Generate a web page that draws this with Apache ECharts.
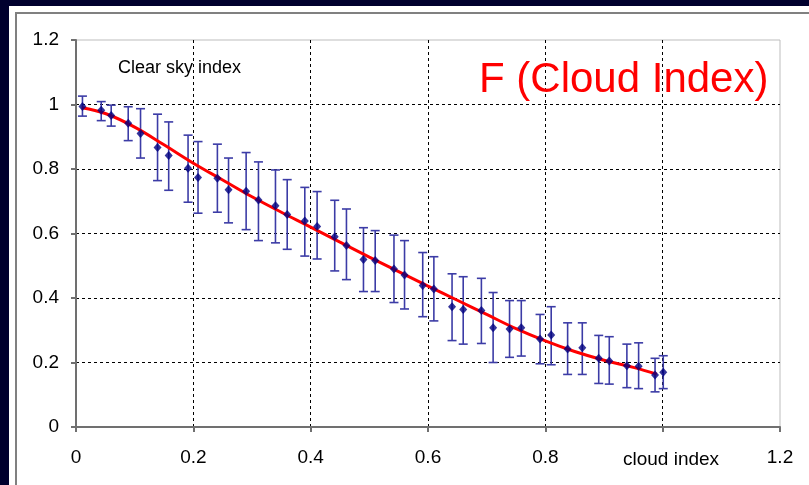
<!DOCTYPE html>
<html>
<head>
<meta charset="utf-8">
<script src="https://cdn.jsdelivr.net/npm/echarts@6/dist/echarts.min.js"></script>
<style>
  html, body { margin: 0; padding: 0; background: #ffffff; }
  #chart { width: 809px; height: 485px; }
</style>
</head>
<body>
<div id="chart"></div>
<script>
// Binned measurements: cloud index, mean clear sky index, and error bar limits
const cloudIndex = [0.011, 0.043, 0.060, 0.089, 0.110, 0.139, 0.158, 0.191, 0.208, 0.241,
  0.260, 0.290, 0.311, 0.340, 0.360, 0.390, 0.411, 0.441, 0.461, 0.490,
  0.510, 0.542, 0.560, 0.591, 0.610, 0.641, 0.660, 0.691, 0.711, 0.739,
  0.759, 0.791, 0.810, 0.838, 0.863, 0.891, 0.909, 0.939, 0.959, 0.987, 1.001];
const clearSkyIndex = [0.994, 0.982, 0.966, 0.942, 0.910, 0.867, 0.842, 0.802, 0.774, 0.771,
  0.736, 0.731, 0.704, 0.686, 0.659, 0.639, 0.622, 0.590, 0.563, 0.519,
  0.516, 0.490, 0.471, 0.439, 0.428, 0.373, 0.364, 0.361, 0.308, 0.304,
  0.308, 0.273, 0.285, 0.242, 0.246, 0.213, 0.205, 0.190, 0.188, 0.161, 0.170];
const upperLimit = [1.026, 1.009, 0.998, 0.993, 0.987, 0.970, 0.946, 0.905, 0.885, 0.877,
  0.834, 0.851, 0.822, 0.797, 0.767, 0.743, 0.730, 0.703, 0.676, 0.618,
  0.609, 0.595, 0.578, 0.541, 0.528, 0.475, 0.466, 0.461, 0.417, 0.392,
  0.392, 0.349, 0.373, 0.323, 0.323, 0.284, 0.280, 0.257, 0.261, 0.213, 0.221];
const lowerLimit = [0.964, 0.950, 0.933, 0.888, 0.834, 0.764, 0.734, 0.697, 0.663, 0.666,
  0.633, 0.612, 0.578, 0.571, 0.551, 0.530, 0.521, 0.484, 0.457, 0.420,
  0.420, 0.386, 0.366, 0.342, 0.329, 0.268, 0.257, 0.259, 0.200, 0.216,
  0.220, 0.196, 0.193, 0.163, 0.163, 0.135, 0.133, 0.122, 0.119, 0.109, 0.119];

// Fitted curve F(cloud index)
const fitX = [0.01, 0.05, 0.10, 0.15, 0.20, 0.25, 0.30, 0.35, 0.40, 0.45, 0.50,
  0.55, 0.60, 0.65, 0.70, 0.75, 0.80, 0.85, 0.90, 0.95, 0.99];
const fitY = [0.990, 0.972, 0.930, 0.875, 0.818, 0.766, 0.714, 0.666, 0.620, 0.573, 0.527,
  0.482, 0.437, 0.393, 0.349, 0.305, 0.267, 0.234, 0.207, 0.185, 0.164];

// Axis tick labels
const xTickLabels = ['0', '0.2', '0.4', '0.6', '0.8', '', '1.2'];
const yTickLabels = ['0', '0.2', '0.4', '0.6', '0.8', '1', '1.2'];

const FONT = '"Liberation Sans", Arial, sans-serif';

const errorData = cloudIndex.map((x, i) => [x, upperLimit[i], lowerLimit[i]]);
const pointData = cloudIndex.map((x, i) => [x, clearSkyIndex[i]]);
const fitData = fitX.map((x, i) => [x, fitY[i]]);

const chart = echarts.init(document.getElementById('chart'), null, { renderer: 'canvas' });

const axisCommon = {
  type: 'value',
  min: 0,
  max: 1.2,
  interval: 0.2,
  axisLine: { show: true, lineStyle: { color: '#707070', width: 2 } },
  axisTick: { show: true, inside: false, length: 5, lineStyle: { color: '#707070', width: 2 } },
  splitLine: {
    show: true,
    showMinLine: false,
    showMaxLine: false,
    lineStyle: { color: '#000000', width: 1, type: [3, 3] }
  }
};

chart.setOption({
  animation: false,
  backgroundColor: '#ffffff',
  graphic: [
    { type: 'rect', z: -10, shape: { x: 0, y: 0, width: 9, height: 485 }, style: { fill: '#00002e' } },
    { type: 'rect', z: -10, shape: { x: 0, y: 0, width: 809, height: 6 }, style: { fill: '#00002e' } },
    { type: 'rect', z: -9, shape: { x: 16, y: 13, width: 820, height: 500 },
      style: { fill: 'none', stroke: '#808080', lineWidth: 2 } },
    { type: 'text', x: 118, y: 68, z: 10,
      style: { text: 'Clear sky index', font: '18px ' + FONT, fill: '#000000', align: 'left', verticalAlign: 'middle' } },
    { type: 'text', x: 479, y: 80, z: 10,
      style: { text: 'F (Cloud Index)', font: '42px ' + FONT, fill: '#ff0000', align: 'left', verticalAlign: 'middle' } },
    { type: 'text', x: 623, y: 460, z: 10,
      style: { text: 'cloud index', font: '19px ' + FONT, fill: '#000000', align: 'left', verticalAlign: 'middle' } }
  ],
  grid: {
    left: 76, top: 40, right: 29, bottom: 58,
    show: true, borderColor: '#bdbdbd', borderWidth: 1, backgroundColor: 'transparent'
  },
  xAxis: Object.assign({}, axisCommon, {
    axisLabel: {
      margin: 21, color: '#000000', fontSize: 19, fontFamily: FONT,
      formatter: v => xTickLabels[Math.round(v / 0.2)]
    }
  }),
  yAxis: Object.assign({}, axisCommon, {
    axisLabel: {
      margin: 17, color: '#000000', fontSize: 19, fontFamily: FONT,
      formatter: v => yTickLabels[Math.round(v / 0.2)]
    }
  }),
  series: [
    {
      name: 'error',
      type: 'custom',
      data: errorData,
      encode: { x: 0, y: [1, 2] },
      z: 2,
      renderItem: (params, api) => {
        const x = api.value(0);
        const top = api.coord([x, api.value(1)]);
        const bot = api.coord([x, api.value(2)]);
        const hw = 4.5;
        const style = { stroke: '#3c3ca6', lineWidth: 1.6 };
        return {
          type: 'group',
          children: [
            { type: 'line', shape: { x1: top[0], y1: top[1], x2: bot[0], y2: bot[1] }, style },
            { type: 'line', shape: { x1: top[0] - hw, y1: top[1], x2: top[0] + hw, y2: top[1] }, style },
            { type: 'line', shape: { x1: bot[0] - hw, y1: bot[1], x2: bot[0] + hw, y2: bot[1] }, style }
          ]
        };
      }
    },
    {
      name: 'F (Cloud Index)',
      type: 'line',
      data: fitData,
      smooth: 0.4,
      showSymbol: false,
      z: 3,
      lineStyle: { color: '#ff0000', width: 3 }
    },
    {
      name: 'Clear sky index',
      type: 'scatter',
      data: pointData,
      symbol: 'diamond',
      symbolSize: [8, 9],
      z: 4,
      itemStyle: { color: '#000080' }
    }
  ]
});
</script>
</body>
</html>
